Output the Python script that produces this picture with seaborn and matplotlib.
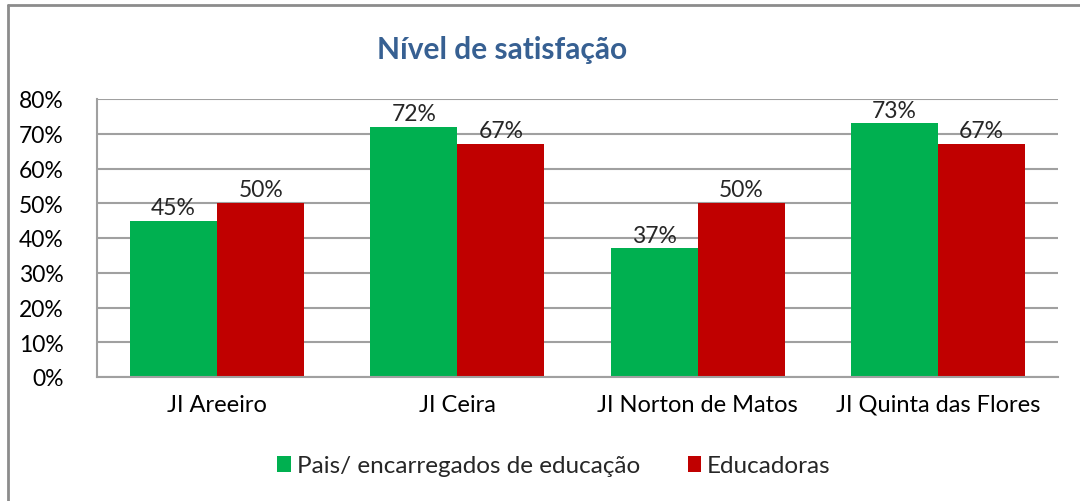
import matplotlib
matplotlib.use("Agg")
import matplotlib.pyplot as plt
import seaborn as sns
import pandas as pd
from matplotlib.patches import Patch
from matplotlib.lines import Line2D
from matplotlib.ticker import PercentFormatter

categories = ["JI Areeiro", "JI Ceira", "JI Norton de Matos", "JI Quinta das Flores"]
series_names = ["Pais/ encarregados de educação", "Educadoras"]
pais = [45, 72, 37, 73]
educadoras = [50, 67, 50, 67]
colors = ["#00B050", "#C00000"]
title = "Nível de satisfação"

df = pd.DataFrame({
    "cat": categories * 2,
    "serie": [series_names[0]] * 4 + [series_names[1]] * 4,
    "val": pais + educadoras,
})

sns.set_theme(style="white")
plt.rcParams["font.family"] = ["Lato", "DejaVu Sans"]

fig = plt.figure(figsize=(10.8, 5.02), dpi=100)
ax = fig.add_axes([97/1080, 1-378/502, (1058-97)/1080, (378-100)/502])

sns.barplot(data=df, x="cat", y="val", hue="serie", palette=colors, width=0.725,
            gap=0, saturation=1, ax=ax, legend=False, linewidth=0)

ax.set_ylim(0, 80)
ax.set_yticks(range(0, 81, 10))
ax.yaxis.set_major_formatter(PercentFormatter(decimals=0))
ax.set_xlabel("")
ax.set_ylabel("")
ax.grid(axis="y", color="#A0A0A0", linewidth=1.5)
ax.set_axisbelow(True)
for s in ["top", "right"]:
    ax.spines[s].set_visible(False)
for s in ["left", "bottom"]:
    ax.spines[s].set_color("#A0A0A0")
    ax.spines[s].set_linewidth(1.5)
ax.tick_params(axis="y", labelsize=16.5, colors="black", length=0, pad=24)
ax.tick_params(axis="x", labelsize=17, colors="black", length=0, pad=12)

for cont in ax.containers:
    ax.bar_label(cont, fmt="%.0f%%", fontsize=16.5, padding=2)

fig.text(502/1080, 1-50/502, title, ha="center", va="center", fontsize=21.5,
         fontweight="bold", color="#376092")

handles = [Patch(facecolor=c, edgecolor="none") for c in colors]
fig.legend(handles, series_names, loc="center", bbox_to_anchor=(554/1080, 35/502),
           ncol=2, frameon=False, fontsize=17.5, handlelength=0.55, handleheight=0.65,
           handletextpad=0.25, columnspacing=1.95, borderpad=0)

fig.add_artist(Line2D([8/1080, 8/1080], [0, 1-6/502], transform=fig.transFigure,
                      color="#8C8C8C", linewidth=2))
fig.add_artist(Line2D([8/1080, 1], [1-6/502, 1-6/502], transform=fig.transFigure,
                      color="#8C8C8C", linewidth=2))

fig.savefig("out.png", dpi=100, facecolor="white")
